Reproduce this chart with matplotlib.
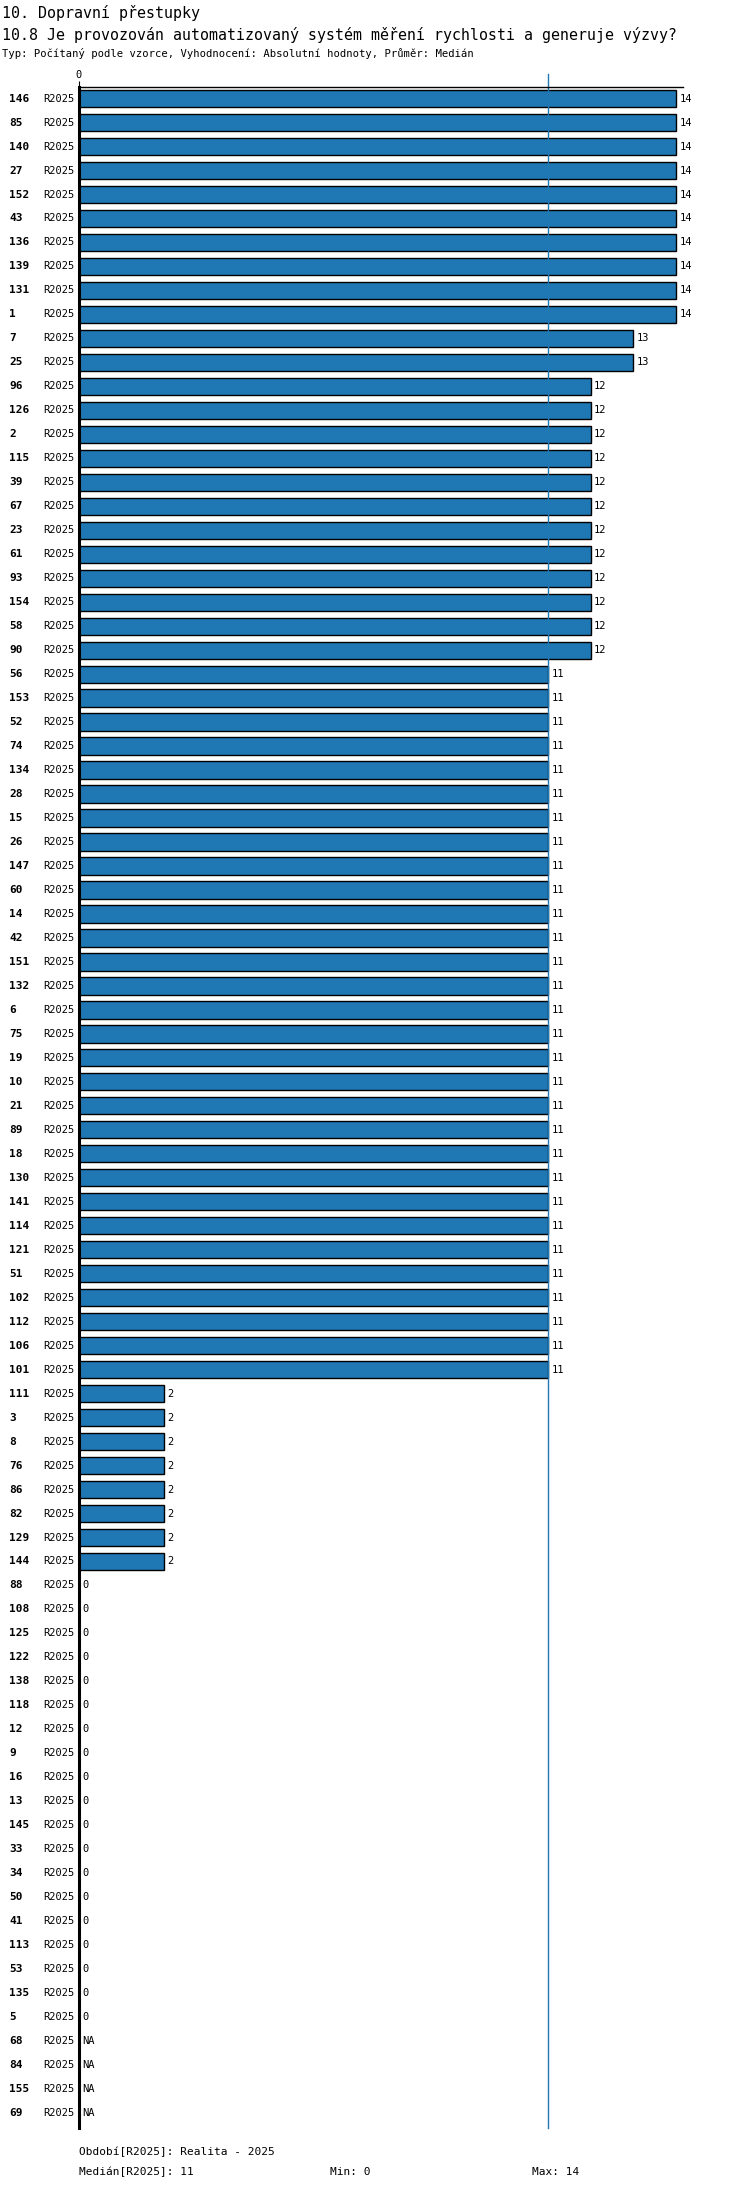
import matplotlib
matplotlib.use("Agg")
import matplotlib.pyplot as plt
import matplotlib.transforms as mtransforms
import numpy as np

ids = ["146","85","140","27","152","43","136","139","131","1",
       "7","25",
       "96","126","2","115","39","67","23","61","93","154","58","90",
       "56","153","52","74","134","28","15","26","147","60","14","42","151","132","6","75","19","10","21","89","18","130","141","114","121","51","102","112","106","101",
       "111","3","8","76","86","82","129","144",
       "88","108","125","122","138","118","12","9","16","13","145","33","34","50","41","113","53","135","5",
       "68","84","155","69"]
values = [14]*10 + [13]*2 + [12]*12 + [11]*30 + [2]*8 + [0]*19 + [None]*4
period = "R2025"
median_val = 11

plt.rcParams['font.family'] = ['DejaVu Sans Mono']
fig = plt.figure(figsize=(7.5, 21.92), dpi=100)
ax = fig.add_axes([0.105, 0.029, 0.805, 0.9315])
trans = mtransforms.blended_transform_factory(fig.transFigure, ax.transData)
ax.set_ylim(84.64, -0.5)
ax.set_xlim(0, 14.15)
for i, (lab, v) in enumerate(zip(ids, values)):
    if v is None:
        ax.text(0.08, i, "NA", va='center', ha='left', fontsize=7.5)
    else:
        if v > 0:
            ax.barh(i, v, height=0.72, color='#1f77b4', edgecolor='black', linewidth=1.0)
        ax.text(v + 0.08, i, str(v), va='center', ha='left', fontsize=7.5)
    ax.text(0.058, i, period, va='center', ha='left', fontsize=7.5, transform=trans)
    ax.text(0.012, i, lab, va='center', ha='left', fontsize=8, fontweight='bold', transform=trans)
ax.axvline(median_val, color='#1f77b4', linewidth=1, ymin=0, ymax=1.006, clip_on=False)
for s in ['right', 'bottom']:
    ax.spines[s].set_visible(False)
ax.spines['left'].set_linewidth(2.2)
ax.spines['top'].set_linewidth(1)
ax.xaxis.tick_top()
ax.set_xticks([0])
ax.set_xticklabels(["0"], fontsize=7.5)
ax.tick_params(axis='x', length=4, pad=1)
ax.set_yticks([])

fig.text(0.002, 0.9975, "10. Dopravní přestupky", fontsize=10.8, va='top')
fig.text(0.002, 0.9875, "10.8 Je provozován automatizovaný systém měření rychlosti a generuje výzvy?", fontsize=10.7, va='top')
fig.text(0.002, 0.978, "Typ: Počítaný podle vzorce, Vyhodnocení: Absolutní hodnoty, Průměr: Medián", fontsize=7.6, va='top')
fig.text(0.105, 0.0185, "Období[R2025]: Realita - 2025", fontsize=8, va='center')
fig.text(0.105, 0.009, "Medián[R2025]: 11", fontsize=8, va='center')
fig.text(0.44, 0.009, "Min: 0", fontsize=8, va='center')
fig.text(0.71, 0.009, "Max: 14", fontsize=8, va='center')
fig.savefig("out.png", dpi=100)
